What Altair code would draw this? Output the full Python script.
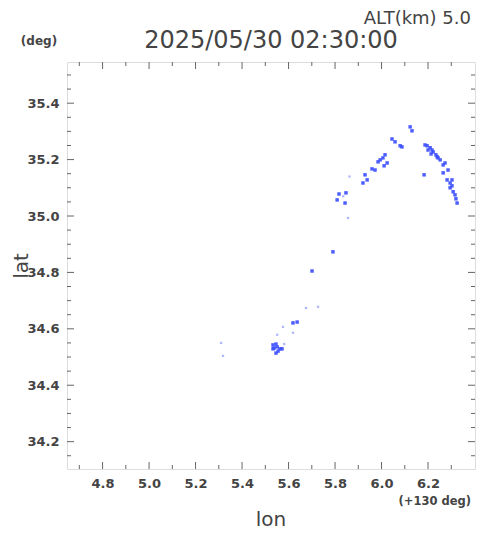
import altair as alt
import pandas as pd

# strong echoes (lon offset from 130E, lat)
strong_lon = [6.123, 6.131, 6.045, 6.058, 6.080, 6.088, 6.015, 6.006, 5.994, 5.985,
              6.024, 6.011, 5.959, 5.972, 5.929, 5.938, 5.920, 5.817, 5.847, 5.809,
              5.843, 5.791, 5.701, 5.637, 5.619, 5.533, 5.546, 5.538, 5.551, 5.533,
              5.563, 5.572, 5.546, 5.555,
              6.187, 6.196, 6.209, 6.200, 6.217, 6.222, 6.213, 6.234, 6.243, 6.252,
              6.239, 6.265, 6.273, 6.286, 6.183, 6.265, 6.282, 6.303, 6.295, 6.303,
              6.295, 6.308, 6.316, 6.320, 6.325]
strong_lat = [35.316, 35.302, 35.273, 35.263, 35.249, 35.245, 35.217, 35.206, 35.199, 35.192,
              35.188, 35.178, 35.167, 35.163, 35.146, 35.128, 35.117, 35.078, 35.082, 35.057,
              35.046, 34.873, 34.805, 34.624, 34.621, 34.543, 34.546, 34.532, 34.536, 34.529,
              34.529, 34.529, 34.514, 34.521,
              35.252, 35.249, 35.242, 35.234, 35.234, 35.227, 35.220, 35.217, 35.206, 35.199,
              35.210, 35.181, 35.188, 35.163, 35.146, 35.153, 35.128, 35.128, 35.117, 35.107,
              35.100, 35.086, 35.075, 35.061, 35.046]

# weak echoes
weak_lon = [5.856, 5.675, 5.727, 5.576, 5.551, 5.619, 5.581, 5.310, 5.318, 5.862, 5.835]
weak_lat = [34.993, 34.674, 34.678, 34.607, 34.579, 34.586, 34.546, 34.550, 34.504, 35.140, 35.070]

x_major = [4.8, 5.0, 5.2, 5.4, 5.6, 5.8, 6.0, 6.2]
x_minor = [4.7, 4.9, 5.1, 5.3, 5.5, 5.7, 5.9, 6.1, 6.3]
y_major = [34.2, 34.4, 34.6, 34.8, 35.0, 35.2, 35.4]
y_minor = [34.15, 34.25, 34.3, 34.35, 34.45, 34.5, 34.55, 34.65, 34.7, 34.75,
           34.85, 34.9, 34.95, 35.05, 35.1, 35.15, 35.25, 35.3, 35.35, 35.45, 35.5]

W, H = 408, 407
FONT = "DejaVu Sans"
GRAY = "#444444"

xs = alt.Scale(domain=[4.647, 6.402], nice=False, zero=False)
ys = alt.Scale(domain=[34.103, 35.546], nice=False, zero=False)

strong = pd.DataFrame({"lon": strong_lon, "lat": strong_lat})
weak = pd.DataFrame({"lon": weak_lon, "lat": weak_lat})

xaxis = alt.Axis(values=x_major, format=".1f", ticks=False, domain=False, grid=False,
                 title=None, labelFont=FONT, labelFontSize=13, labelFontWeight="bold",
                 labelColor=GRAY, labelPadding=8)
yaxis = alt.Axis(values=y_major, format=".1f", ticks=False, domain=False, grid=False,
                 title=None, labelFont=FONT, labelFontSize=13, labelFontWeight="bold",
                 labelColor=GRAY, labelPadding=8)

pts_weak = alt.Chart(weak).mark_square(size=5, color="#98a2ff", opacity=0.8).encode(
    x=alt.X("lon:Q", scale=xs, axis=xaxis),
    y=alt.Y("lat:Q", scale=ys, axis=yaxis),
)
pts_strong = alt.Chart(strong).mark_square(size=12, color="#3a4dff", opacity=0.9).encode(
    x=alt.X("lon:Q", scale=xs),
    y=alt.Y("lat:Q", scale=ys),
)

def xticks(vals, length):
    d = pd.DataFrame({"lon": vals})
    b = alt.Chart(d).mark_rule(color="#666666", strokeWidth=1).encode(
        x=alt.X("lon:Q", scale=xs), y=alt.value(H), y2=alt.value(H - length))
    t = alt.Chart(d).mark_rule(color="#666666", strokeWidth=1).encode(
        x=alt.X("lon:Q", scale=xs), y=alt.value(0), y2=alt.value(length))
    return [b, t]

def yticks(vals, length):
    d = pd.DataFrame({"lat": vals})
    l = alt.Chart(d).mark_rule(color="#666666", strokeWidth=1).encode(
        y=alt.Y("lat:Q", scale=ys), x=alt.value(0), x2=alt.value(length))
    r = alt.Chart(d).mark_rule(color="#666666", strokeWidth=1).encode(
        y=alt.Y("lat:Q", scale=ys), x=alt.value(W), x2=alt.value(W - length))
    return [l, r]

one = pd.DataFrame({"a": [0]})

def txt(text, x, y, size, weight="normal", align="center", angle=0):
    return alt.Chart(one).mark_text(text=text, font=FONT, fontSize=size, fontWeight=weight,
                                    color=GRAY, align=align, baseline="alphabetic",
                                    angle=angle).encode(x=alt.value(x), y=alt.value(y))

texts = [
    txt("ALT(km) 5.0", 404, -38, 18, align="right"),
    txt("2025/05/30 02:30:00", 204, -14, 24),
    txt("(deg)", -28, -17, 12, weight="bold"),
    txt("(+130 deg)", 404, 443, 11.5, weight="bold", align="right"),
    txt("lon", 204, 464, 20),
    txt("lat", -39, 204, 20, angle=270),
]

layers = [pts_weak, pts_strong] + xticks(x_major, 7) + xticks(x_minor, 4) \
    + yticks(y_major, 7) + yticks(y_minor, 4) + texts

chart = alt.layer(*layers).properties(
    width=W, height=H,
    autosize=alt.AutoSizeParams(type="none"),
    padding={"left": 59, "top": 54, "right": 7, "bottom": 64},
).configure_view(stroke="#555555", strokeWidth=2).configure(background="white")

chart.save("out.html", embed_options={"renderer": "svg", "actions": False})
